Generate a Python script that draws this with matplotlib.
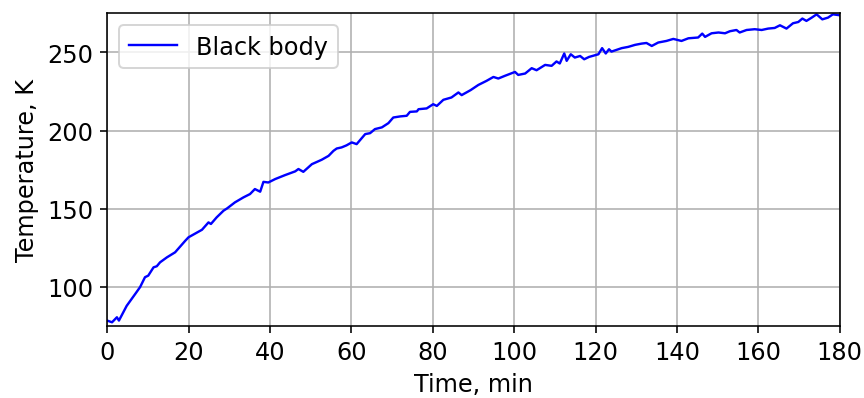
import matplotlib
matplotlib.use('Agg')
import matplotlib.pyplot as plt

# Time (min) and temperature (K)
time_min = [0, 1.2, 2.4, 2.9, 4.8, 6.9, 8.1, 9.3, 10.1, 11.4, 12.2, 13, 14.7, 16.7,
            19.2, 20, 23.3, 24.9, 25.5, 26.9, 28.6, 29.5, 31.4, 33.5, 35.1, 36.3,
            37.6, 38.4, 39.6, 41.3, 43.7, 46.2, 47, 48.2, 50.3, 52.7, 54.4, 55.6,
            56.4, 57.6, 58.8, 60.1, 61.3, 63.4, 64.6, 65.8, 67.5, 69.1, 70.3, 72,
            73.6, 74.4, 76.1, 76.5, 78.5, 80.1, 81, 82.6, 84.6, 86.3, 87.1, 89.3,
            91.2, 93.2, 94.9, 96.1, 97.7, 100.2, 101, 102.7, 104.3, 105.5, 107.6,
            109.2, 110.4, 111.2, 112.3, 112.9, 113.9, 114.9, 116.2, 117.2, 118.4,
            120.7, 121.6, 122.5, 123.3, 123.9, 126.4, 128, 129.7, 131.3, 132.5,
            133.8, 135.4, 137.4, 139.1, 141.1, 142.8, 145.2, 146.2, 146.9, 148.5,
            150.2, 151.8, 153, 154.6, 155.4, 157.1, 159.1, 160.8, 162.4, 164,
            165.3, 166.9, 168.5, 169.8, 170.8, 171.8, 173.1, 174.3, 175.7, 177.1,
            178.3, 180]
temp_k = [78.6, 77.5, 80.7, 78.6, 88, 95.6, 100, 106.3, 107.3, 112.6, 113.3, 115.8,
          119, 122.2, 129.6, 131.8, 136.6, 141.3, 140.3, 144.5, 148.8, 150.3, 154.1,
          157.3, 159.4, 162.6, 160.9, 167.2, 166.8, 169, 171.5, 173.9, 175.4, 173.6,
          178.5, 181.3, 183.8, 187, 188.5, 189.2, 190.5, 192.4, 191.3, 197.7, 198.3,
          200.9, 202, 204.7, 208.3, 209, 209.4, 211.9, 212.2, 213.6, 214.1, 216.8,
          215.7, 219.6, 221.1, 224.3, 222.6, 225.8, 229.1, 231.7, 234.2, 233.2,
          234.9, 237.4, 235.5, 236.4, 239.8, 238.5, 241.9, 241.3, 244.1, 242.8,
          249.2, 244.5, 248.7, 246.6, 247.6, 245.5, 247, 248.7, 252.6, 249.2, 251.9,
          250.4, 252.6, 253.4, 254.7, 255.5, 255.9, 254, 256.2, 257.2, 258.5, 257.2,
          258.9, 259.4, 261.9, 259.8, 262.1, 262.6, 262.1, 263.4, 264.2, 262.6,
          264.2, 264.7, 264.2, 265.1, 265.5, 267.2, 265.1, 268.5, 269.3, 271.5,
          270, 272.1, 274.2, 271, 272.1, 274.2, 273.6]

plt.rcParams['font.size'] = 12

fig, ax = plt.subplots(figsize=(6, 2.77), dpi=144)
ax.plot(time_min, temp_k, color='blue', linewidth=1.2, label='Black body')
ax.set_xlim(0, 180)
ax.set_ylim(75, 275)
ax.set_xticks(range(0, 181, 20))
ax.set_xlabel('Time, min')
ax.set_ylabel('Temperature, K')
ax.grid(True)
ax.legend(loc='upper left')
fig.subplots_adjust(left=0.124, right=0.972, top=0.965, bottom=0.18)

plt.savefig('out.png')
